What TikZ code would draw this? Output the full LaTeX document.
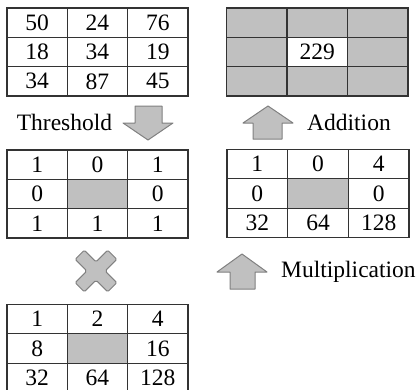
\documentclass[tikz,border=0pt]{standalone}
\usepackage{fontspec}
\setmainfont{Liberation Serif}
\definecolor{gridline}{HTML}{333333}
\definecolor{shade}{HTML}{C0C0C0}
\definecolor{shapeline}{HTML}{808080}
\tikzset{
  cell/.style={draw=gridline, line width=1.2pt, anchor=north west, inner sep=0pt,
    outer sep=0pt, minimum height=29.33pt, font=\fontsize{23.5}{28}\selectfont},
  lbl/.style={font=\fontsize{23.5}{28}\selectfont, inner sep=0pt},
  blockshape/.style={draw=shapeline, fill=shade, line width=1pt, line join=round},
}
% #1 name, #2 x, #3 y, #4 cell width, #5 value/fill list (row by row)
\newcommand\cellgrid[5]{%
  \foreach \v/\f [count=\i from 0] in {#5} {%
    \pgfmathtruncatemacro\cc{mod(\i,3)}%
    \pgfmathtruncatemacro\rr{div(\i,3)}%
    \node[cell, fill=\f, minimum width=#4pt] (#1-\rr\cc) at ({#2+\cc*#4}, {#3+\rr*29.33}) {\v};
  }%
}
\begin{document}
\begin{tikzpicture}[x=1pt, y=-1pt]
\useasboundingbox (0,0) rectangle (420,389);

% input neighbourhood
\cellgrid{img}{7}{8}{60.33}{50/white, 24/white, 76/white, 18/white, 34/white, 19/white, 34/white, 87/white, 45/white}
% thresholded pattern
\cellgrid{bin}{7}{150}{60.33}{1/white, 0/white, 1/white, 0/white, {}/shade, 0/white, 1/white, 1/white, 1/white}
% binary weights
\cellgrid{wgt}{7}{304.5}{60.33}{1/white, 2/white, 4/white, 8/white, {}/shade, 16/white, 32/white, 64/white, 128/white}
% weighted pattern
\cellgrid{prod}{227}{149.5}{60.67}{1/white, 0/white, 4/white, 0/white, {}/shade, 0/white, 32/white, 64/white, 128/white}
% resulting code
\cellgrid{res}{226.5}{8}{60.5}{{}/shade, {}/shade, {}/shade, {}/shade, 229/white, {}/shade, {}/shade, {}/shade, {}/shade}

% operation labels
\node[lbl, anchor=base] (thr) at (64.5,130) {Threshold};
\node[lbl, anchor=base west] (add) at (307,130) {Addition};
\node[lbl, anchor=base west] (mul) at (281,277.3) {Multiplication};

% down arrow (threshold)
\draw[blockshape] (135,106) -- (162,106) -- (162,123) -- (173,123) -- (148,140)
  -- (123,123) -- (135,123) -- cycle;
% up arrow (addition)
\draw[blockshape] (253,139) -- (282,139) -- (282,123) -- (293,123) -- (268,106)
  -- (243,123) -- (253,123) -- cycle;
% up arrow (multiplication)
\draw[blockshape] (230,289) -- (255,289) -- (255,272) -- (267,272) -- (242,254)
  -- (217,272) -- (230,272) -- cycle;
% multiplication sign
\draw[blockshape, rounded corners=1.5pt, shift={(96,271)}, rotate=45]
  (-6.5,-23) -- (6.5,-23) -- (6.5,-6.5) -- (23,-6.5) -- (23,6.5) -- (6.5,6.5)
  -- (6.5,23) -- (-6.5,23) -- (-6.5,6.5) -- (-23,6.5) -- (-23,-6.5) -- (-6.5,-6.5) -- cycle;
\end{tikzpicture}
\end{document}
